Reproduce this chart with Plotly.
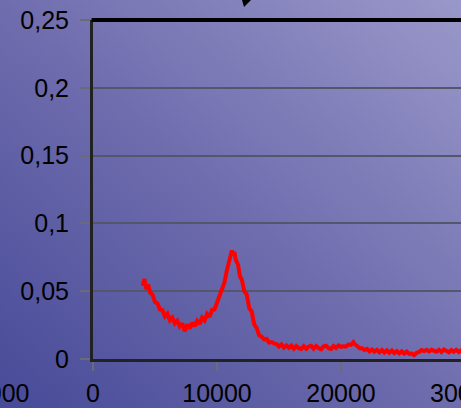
import base64
import plotly.graph_objects as go

# ---- data ----
freq = [4000, 4150, 4300, 4450, 4600, 4800, 5000, 5200, 5400, 5600, 5800, 6000,
        6200, 6400, 6600, 6800, 7000, 7200, 7400, 7600, 7800, 8000, 8200, 8400,
        8600, 8800, 9000, 9200, 9400, 9600, 9800, 10000, 10200, 10400, 10600,
        10800, 11000, 11100, 11200, 11300, 11400, 11500, 11700, 11850, 12000,
        12200, 12400, 12600, 12800, 13000, 13200, 13400, 13600, 13800, 14000,
        14200, 14400, 14600, 14800, 15000, 15200, 15400, 15600, 15800, 16000,
        16200, 16400, 16600, 16800, 17000, 17200, 17400, 17600, 17800, 18000,
        18200, 18400, 18600, 18800, 19000, 19200, 19400, 19600, 19800, 20000,
        20200, 20400, 20600, 20800, 21000, 21100, 21300, 21500, 21700, 21900,
        22100, 22300, 22500, 22700, 22900, 23100, 23300, 23500, 23700, 23900,
        24100, 24300, 24500, 24700, 24900, 25100, 25300, 25500, 25700, 25900,
        26100, 26300, 26500, 26700, 26900, 27100, 27300, 27500, 27700, 27900,
        28100, 28300, 28500, 28700, 28900, 29100, 29300, 29500, 29700, 29900]
amplitude = [0.0540, 0.0590, 0.0515, 0.0550, 0.0490, 0.0475, 0.0420, 0.0410,
             0.0365, 0.0360, 0.0315, 0.0335, 0.0285, 0.0305, 0.0262, 0.0282,
             0.0240, 0.0262, 0.0205, 0.0255, 0.0225, 0.0268, 0.0242, 0.0282,
             0.0258, 0.0305, 0.0284, 0.0332, 0.0310, 0.0362, 0.0365, 0.0415,
             0.0445, 0.0515, 0.0565, 0.0655, 0.0715, 0.0765, 0.0800, 0.0765,
             0.0790, 0.0735, 0.0695, 0.0610, 0.0585, 0.0500, 0.0475, 0.0375,
             0.0350, 0.0255, 0.0230, 0.0175, 0.0165, 0.0145, 0.0148, 0.0122,
             0.0125, 0.0115, 0.0110, 0.0092, 0.0108, 0.0084, 0.0100, 0.0082,
             0.0098, 0.0076, 0.0096, 0.0080, 0.0074, 0.0094, 0.0076, 0.0092,
             0.0098, 0.0076, 0.0096, 0.0080, 0.0072, 0.0094, 0.0098, 0.0080,
             0.0074, 0.0096, 0.0082, 0.0100, 0.0090, 0.0094, 0.0092, 0.0106,
             0.0104, 0.0124, 0.0110, 0.0096, 0.0080, 0.0080, 0.0066, 0.0074,
             0.0056, 0.0070, 0.0054, 0.0068, 0.0050, 0.0066, 0.0048, 0.0064,
             0.0046, 0.0062, 0.0044, 0.0058, 0.0042, 0.0056, 0.0040, 0.0054,
             0.0038, 0.0040, 0.0028, 0.0046, 0.0052, 0.0066, 0.0058, 0.0068,
             0.0056, 0.0068, 0.0060, 0.0054, 0.0068, 0.0052, 0.0070, 0.0056,
             0.0050, 0.0066, 0.0054, 0.0068, 0.0052, 0.0064, 0.0056]

x_ticks = [0, 10000, 20000]
y_ticks = [0, 0.05, 0.1, 0.15, 0.2, 0.25]

FONT = "Liberation Sans, Arial, sans-serif"

svg = ('<svg xmlns="http://www.w3.org/2000/svg" width="461" height="408" '
       'preserveAspectRatio="none">'
       '<defs><linearGradient id="g" x1="0" y1="1" x2="1" y2="0">'
       '<stop offset="0" stop-color="#474a98"/>'
       '<stop offset="0.5" stop-color="#6f6dae"/>'
       '<stop offset="1" stop-color="#9a98c9"/>'
       '</linearGradient></defs>'
       '<rect width="461" height="408" fill="url(#g)"/></svg>')
bg_src = "data:image/svg+xml;base64," + base64.b64encode(svg.encode()).decode()

L, T, B, W, H = 93, 20, 49, 461, 408
pw, ph = W - L, H - T - B

fig = go.Figure()
fig.add_trace(go.Scatter(x=freq, y=amplitude, mode="lines",
                         line=dict(color="#ff0000", width=4),
                         showlegend=False, hoverinfo="skip"))

fig.update_layout(
    width=W, height=H,
    margin=dict(l=L, r=0, t=T, b=B, pad=0),
    paper_bgcolor="#6f6dae",
    plot_bgcolor="rgba(0,0,0,0)",
    separators=",.",
    hovermode=False,
    font=dict(family=FONT, size=25, color="#000000"),
    images=[dict(source=bg_src, xref="paper", yref="paper",
                 x=-L / pw, y=1 + T / ph, sizex=W / pw, sizey=H / ph,
                 xanchor="left", yanchor="top", sizing="stretch",
                 layer="below")],
    xaxis=dict(range=[0, pw / 124 * 10000], tickvals=x_ticks, tickformat="d",
               showgrid=False, zeroline=False, showline=True,
               linecolor="#222222", linewidth=3, automargin=False,
               ticks="outside", ticklen=9, tickwidth=2, tickcolor="#6a6a78",
               ticklabelstandoff=1),
    yaxis=dict(range=[0, 0.25], tickvals=y_ticks, automargin=False,
               showgrid=True, gridcolor="#54566c", gridwidth=2,
               zeroline=False, showline=True,
               linecolor="#222222", linewidth=3,
               ticks="outside", ticklen=10, tickwidth=2, tickcolor="#6a6a78",
               ticklabelstandoff=6),
    shapes=[dict(type="line", xref="paper", yref="paper", x0=-0.004, x1=1.02,
                 y0=1, y1=1, line=dict(color="#000000", width=4)),
            dict(type="path", xref="paper", yref="paper",
                 path="M %f %f L %f %f L %f %f Z" % (
                     (242 - L) / pw, 1 + T / ph,
                     (251 - L) / pw, 1 + T / ph,
                     (244 - L) / pw, 1 + (T - 7) / ph),
                 fillcolor="#000000", line=dict(width=0))],
    annotations=[dict(text="30000", xref="paper", yref="paper",
                      x=(465 - L) / pw, y=-(393 - T - ph) / ph,
                      xanchor="center", yanchor="middle", showarrow=False,
                      font=dict(family=FONT, size=25, color="#000000")),
                 dict(text="30000", xref="paper", yref="paper",
                      x=(32 - L) / pw, y=-(393 - T - ph) / ph,
                      xanchor="right", yanchor="middle", showarrow=False,
                      font=dict(family=FONT, size=25, color="#000000"))],
)

fig.write_html("out.html",
               config={"displayModeBar": False, "staticPlot": True},
               post_script="document.body.style.margin='0';"
                           "document.body.style.overflow='hidden';")
